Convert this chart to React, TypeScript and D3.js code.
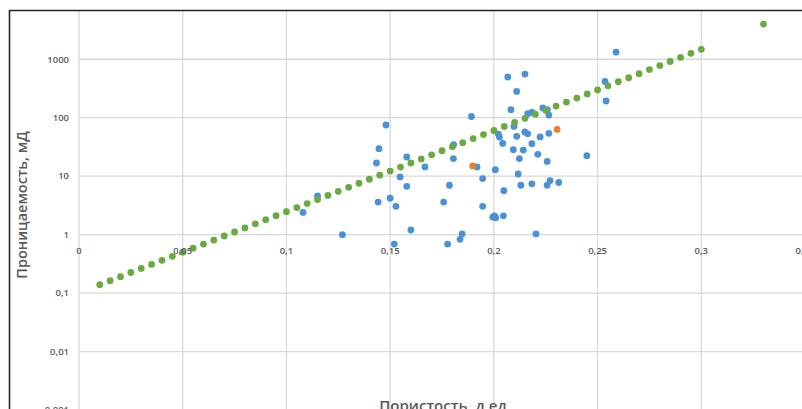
import React, { useEffect, useRef } from 'react';
import * as d3 from 'd3';

const WIDTH = 802;
const HEIGHT = 409;

// axis ticks
const xTicks = [0, 0.05, 0.1, 0.15, 0.2, 0.25, 0.3, 0.35];
const yTicks = [0.001, 0.01, 0.1, 1, 10, 100, 1000];

// measured samples (blue)
const blueX = [
  0.108, 0.115, 0.127, 0.1434, 0.1442, 0.1446, 0.148, 0.15, 0.152, 0.1528,
  0.1548, 0.158, 0.158, 0.16, 0.1668, 0.1758, 0.1777, 0.1786, 0.1805, 0.1806,
  0.1837, 0.1847, 0.1892, 0.1919, 0.1946, 0.1946, 0.1995, 0.2003, 0.2009, 0.2007,
  0.2022, 0.2027, 0.2043, 0.2046, 0.2048, 0.2067, 0.2082, 0.2097, 0.2094, 0.211,
  0.211, 0.2117, 0.2123, 0.213, 0.2142, 0.2149, 0.215, 0.2163, 0.2163, 0.2183,
  0.2183, 0.2183, 0.2203, 0.2212, 0.2223, 0.2236, 0.2257, 0.2257, 0.2258, 0.2265,
  0.2265, 0.2271, 0.2313, 0.2448, 0.2536, 0.2541, 0.2589,
];
const blueY = [
  2.4, 4.6, 1.0, 16.8, 3.6, 29.5, 75, 4.2, 0.69, 3.05,
  9.7, 6.7, 21.3, 1.2, 14.4, 3.6, 0.69, 7.0, 20, 34.5,
  0.83, 1.03, 105, 14.4, 9.1, 3.05, 2.0, 2.1, 1.95, 12.9,
  52.5, 46.7, 36.3, 2.1, 5.65, 497, 137, 71, 28.4, 282,
  48, 10.9, 20, 7.0, 28, 57, 558, 117, 53, 123,
  36, 7.4, 1.03, 23.6, 47, 147, 17.9, 7.0, 137, 111,
  54, 8.4, 7.8, 22.4, 417, 193, 1320,
];

// highlighted samples (orange)
const orangeX = [0.1898, 0.2305];
const orangeY = [15, 63];

// trend (green)
const greenX = [
  0.01, 0.015, 0.02, 0.025, 0.03, 0.035, 0.04, 0.045, 0.05, 0.055,
  0.06, 0.065, 0.07, 0.075, 0.08, 0.085, 0.09, 0.095, 0.1, 0.105,
  0.11, 0.115, 0.12, 0.125, 0.13, 0.135, 0.14, 0.145, 0.15, 0.155,
  0.16, 0.165, 0.17, 0.175, 0.18, 0.185, 0.19, 0.195, 0.2, 0.205,
  0.21, 0.215, 0.22, 0.225, 0.23, 0.235, 0.24, 0.245, 0.25, 0.255,
  0.26, 0.265, 0.27, 0.275, 0.28, 0.285, 0.29, 0.295, 0.3, 0.33,
];
const greenY = [
  0.139, 0.163, 0.191, 0.225, 0.264, 0.309, 0.363, 0.426, 0.5, 0.586,
  0.688, 0.807, 0.947, 1.11, 1.3, 1.53, 1.8, 2.11, 2.47, 2.9,
  3.4, 3.99, 4.69, 5.5, 6.45, 7.57, 8.88, 10.4, 12.2, 14.3,
  16.8, 19.7, 23.2, 27.2, 31.9, 37.4, 43.9, 51.5, 60.4, 70.9,
  83.2, 97.6, 115, 134, 158, 185, 217, 255, 299, 351,
  412, 483, 567, 665, 780, 916, 1075, 1261, 1480, 4000,
];

const fmt = (v: number) => String(v).replace('.', ',');

const FONT = "'Open Sans', 'DejaVu Sans', sans-serif";
const GREY = '#595959';

export default function App() {
  const ref = useRef<SVGSVGElement>(null);

  useEffect(() => {
    const svg = d3.select(ref.current);
    svg.selectAll('*').remove();

    const x = d3.scaleLinear().domain([0, 0.35]).range([79, 805]);
    const y = d3.scaleLog().domain([0.001, 10000]).range([410, 0.8]);

    svg.append('rect').attr('width', WIDTH).attr('height', HEIGHT).attr('fill', '#fff');

    const defs = svg.append('defs');
    defs.append('clipPath').attr('id', 'plot')
      .append('rect').attr('x', 10).attr('y', 11).attr('width', WIDTH - 10).attr('height', HEIGHT - 11);

    const plot = svg.append('g').attr('clip-path', 'url(#plot)');

    // grid
    plot.selectAll('.vgrid')
      .data(xTicks)
      .enter()
      .append('line')
      .attr('x1', (d) => x(d)).attr('x2', (d) => x(d))
      .attr('y1', 11).attr('y2', HEIGHT)
      .attr('stroke', '#d9d9d9').attr('stroke-width', 1.3);

    plot.selectAll('.hgrid')
      .data(yTicks)
      .enter()
      .append('line')
      .attr('x1', x(0)).attr('x2', WIDTH)
      .attr('y1', (d) => y(d)).attr('y2', (d) => y(d))
      .attr('stroke', '#d9d9d9').attr('stroke-width', 1.3);

    // tick labels
    svg.selectAll('.ylab')
      .data(yTicks)
      .enter()
      .append('text')
      .attr('x', 69)
      .attr('y', (d) => y(d))
      .attr('dy', '0.35em')
      .attr('text-anchor', 'end')
      .attr('font-family', FONT)
      .attr('font-size', 9.5)
      .attr('font-weight', 600)
      .attr('fill', GREY)
      .text((d) => fmt(d));

    svg.selectAll('.xlab')
      .data(xTicks)
      .enter()
      .append('text')
      .attr('x', (d) => x(d))
      .attr('y', y(1) + 16)
      .attr('dy', '0.35em')
      .attr('text-anchor', 'middle')
      .attr('font-family', FONT)
      .attr('font-size', 9.5)
      .attr('font-weight', 600)
      .attr('fill', GREY)
      .text((d) => fmt(d));

    // series
    const drawDots = (xs: number[], ys: number[], color: string) => {
      plot.append('g')
        .selectAll('circle')
        .data(xs)
        .enter()
        .append('circle')
        .attr('cx', (d) => x(d))
        .attr('cy', (_d, i) => y(ys[i]))
        .attr('r', 3.4)
        .attr('fill', color);
    };
    drawDots(blueX, blueY, '#4a92d8');
    drawDots(orangeX, orangeY, '#ed7d31');
    drawDots(greenX, greenY, '#6aab3f');

    // axis titles
    svg.append('text')
      .attr('transform', `translate(27,205) rotate(-90)`)
      .attr('text-anchor', 'middle')
      .attr('font-family', FONT)
      .attr('font-size', 14.5)
      .attr('font-weight', 600)
      .attr('fill', GREY)
      .text('Проницаемость, мД');

    svg.append('text')
      .attr('x', 443)
      .attr('y', 411)
      .attr('text-anchor', 'middle')
      .attr('font-family', FONT)
      .attr('font-size', 15)
      .attr('font-weight', 600)
      .attr('fill', GREY)
      .text('Пористость, д.ед');

    // frame
    svg.append('path')
      .attr('d', `M9.5,${HEIGHT} V10.5 H${WIDTH}`)
      .attr('fill', 'none')
      .attr('stroke', '#262626')
      .attr('stroke-width', 1.6);
  }, []);

  return (
    <svg
      ref={ref}
      width={WIDTH}
      height={HEIGHT}
      style={{ position: 'absolute', left: 0, top: 0, display: 'block' }}
    />
  );
}
